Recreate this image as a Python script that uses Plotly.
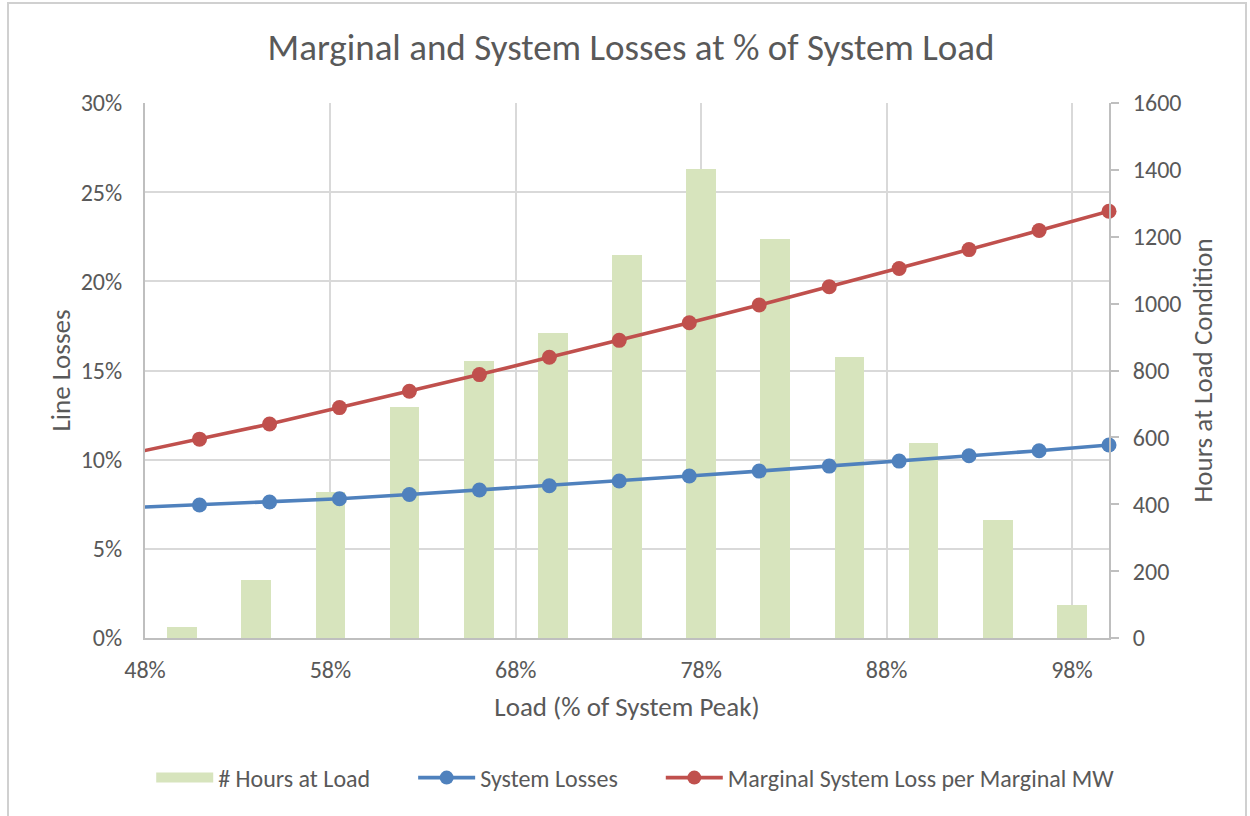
import plotly.graph_objects as go

# ---- data ----
bar_load = [50, 54, 58, 62, 66, 70, 74, 78, 82, 86, 90, 94, 98]
hours_at_load = [33, 174, 437, 690, 828, 912, 1144, 1404, 1192, 839, 583, 353, 99]

line_load = [47.17, 50.94, 54.72, 58.49, 62.26, 66.04, 69.81, 73.58, 77.36,
             81.13, 84.91, 88.68, 92.45, 96.23, 100.0]
system_losses = [7.31, 7.46, 7.63, 7.81, 8.05, 8.30, 8.54, 8.80, 9.08,
                 9.36, 9.64, 9.92, 10.22, 10.50, 10.82]
marginal_losses = [10.33, 11.15, 12.00, 12.92, 13.84, 14.77, 15.74, 16.69, 17.68,
                   18.67, 19.70, 20.72, 21.78, 22.85, 23.93]

x_ticks = [48, 58, 68, 78, 88, 98]
x_range = [48, 100]
pct_ticks = [0, 5, 10, 15, 20, 25, 30]
hour_ticks = [0, 200, 400, 600, 800, 1000, 1200, 1400, 1600]

FONT = "Carlito, Lato, sans-serif"
TXT = "#595959"
GRID = "#d9d9d9"
AXL = "#bfbfbf"
BAR_C = "#d7e4bd"
BLUE = "#4f81bd"
RED = "#c0504d"

PL, PR, PT, PB = 145, 1109, 103, 638
W, H = 1250, 816
PW, PH = PR - PL, PB - PT

marker_sizes = [0 if x < x_range[0] else 15 for x in line_load]
SP = "\u00a0" * 7

fig = go.Figure()
fig.add_trace(go.Bar(
    x=bar_load, y=hours_at_load, width=1.6, name="# Hours at Load",
    marker=dict(color=BAR_C, line=dict(width=0)), yaxis="y", showlegend=False,
))
# legend-only swatch for bars (wide rectangle like the original)
fig.add_trace(go.Scatter(
    x=[None], y=[None], mode="lines", name="# Hours at Load" + SP,
    line=dict(color=BAR_C, width=12), yaxis="y",
))
fig.add_trace(go.Scatter(
    x=line_load, y=system_losses, name="System Losses" + SP, mode="lines+markers",
    line=dict(color=BLUE, width=3.6),
    marker=dict(color=BLUE, size=marker_sizes, opacity=1, line=dict(width=0)),
    cliponaxis=False, yaxis="y2",
))
fig.add_trace(go.Scatter(
    x=line_load, y=marginal_losses, name="Marginal System Loss per Marginal MW",
    mode="lines+markers",
    line=dict(color=RED, width=3.6),
    marker=dict(color=RED, size=marker_sizes, opacity=1, line=dict(width=0)),
    cliponaxis=False, yaxis="y2",
))

fig.update_layout(
    width=W, height=H,
    margin=dict(l=PL, r=W - PR, t=PT, b=H - PB, pad=0),
    paper_bgcolor="white", plot_bgcolor="white",
    font=dict(family=FONT, color=TXT, size=24),
    title=dict(text="Marginal and System Losses at % of System Load",
               x=631 / W, xanchor="center", y=1 - 47 / H, yanchor="middle",
               font=dict(size=37, color=TXT, family=FONT)),
    bargap=0,
    showlegend=True,
    legend=dict(orientation="h", x=(157 - 145) / PW - 0.006, xanchor="left",
                y=(638 - 778) / PH, yanchor="middle",
                font=dict(size=24, color=TXT), itemwidth=57,
                traceorder="normal"),
    xaxis=dict(range=x_range, tickvals=x_ticks, ticktext=[f"{v}%" for v in x_ticks],
               showgrid=True, gridcolor=GRID, gridwidth=1.5,
               showline=True, linecolor=AXL, linewidth=2, ticks="",
               ticklabelstandoff=9, zeroline=False,
               title=dict(text="Load (% of System Peak)", standoff=14,
                          font=dict(size=27, color=TXT))),
    yaxis=dict(range=[0, 1600], tickvals=hour_ticks, side="right",
               showgrid=False, showline=True, linecolor=AXL, linewidth=2,
               ticks="outside", ticklen=8, tickcolor=AXL, tickwidth=1.5,
               ticklabelstandoff=9, zeroline=False,
               title=dict(text="Hours at Load Condition", standoff=13,
                          font=dict(size=27, color=TXT))),
    yaxis2=dict(range=[0, 30], tickvals=pct_ticks, ticktext=[f"{v}%" for v in pct_ticks],
                side="left", overlaying="y", anchor="x",
                showgrid=True, gridcolor=GRID, gridwidth=1.5,
                showline=True, linecolor=AXL, linewidth=2, ticks="",
                ticklabelstandoff=16, zeroline=False,
                title=dict(text="Line Losses", standoff=2,
                           font=dict(size=27, color=TXT))),
    shapes=[dict(type="rect", xref="paper", yref="paper",
                 x0=(8 - 145) / PW, x1=(1246 - 145) / PW,
                 y0=(638 - 840) / PH, y1=(638 - 3) / PH,
                 line=dict(color="#d0d0d0", width=2), fillcolor="rgba(0,0,0,0)",
                 layer="below")],
)

fig.write_html("out.html",
               config={"displayModeBar": False},
               post_script="document.body.style.margin='0';")
